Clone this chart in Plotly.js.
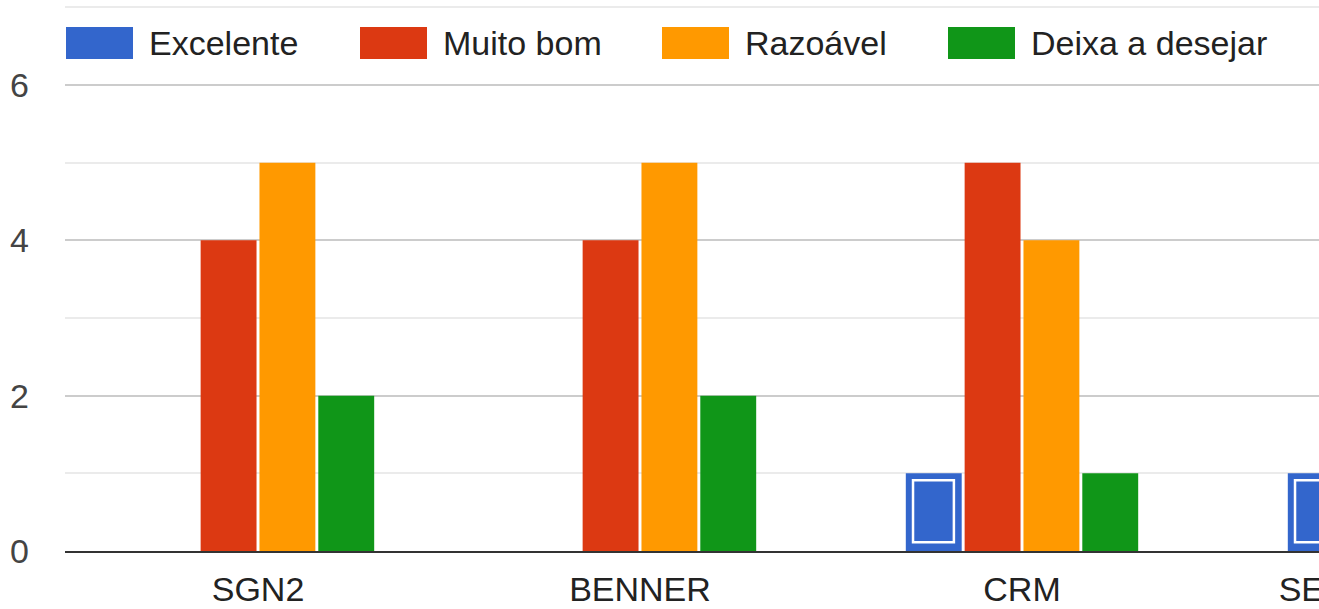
<!DOCTYPE html>
<html>
<head>
<meta charset="utf-8">
<script src="https://cdn.plot.ly/plotly-3.0.1.min.js"></script>
<style>
html, body { margin: 0; padding: 0; overflow: hidden; background: #fff; }
#chart { width: 1593px; height: 609px; }
</style>
</head>
<body>
<div id="chart"></div>
<script>
// ---- data ----
const categories = ['SGN2', 'BENNER', 'CRM', 'SERVICE DESK'];
const seriesNames = ['Excelente', 'Muito bom', 'Razoável', 'Deixa a desejar'];
const excelente = [0, 0, 1, 1];
const muitoBom = [4, 4, 5, 4];
const razoavel = [5, 5, 4, 4];
const deixaADesejar = [2, 2, 1, 2];
const yTickVals = [0, 2, 4, 6];
const yTickText = ['0', '2', '4', '6'];

// ---- styles ----
const colors = ['#3366cc', '#dc3912', '#ff9900', '#109618'];
const FONT = 'Arial, "Liberation Sans", sans-serif';
const W = 1593, H = 609;
const M = { l: 65, r: 0, t: 0, b: 58 };
const plotW = W - M.l - M.r, plotH = H - M.t - M.b;
const yMax = 7.094;
const xShift = 2 / 382;

const allSeries = [excelente, muitoBom, razoavel, deixaADesejar];
const traces = allSeries.map((vals, i) => ({
  type: 'bar',
  name: seriesNames[i],
  x: categories,
  y: vals,
  marker: { color: colors[i], line: { width: 0 } },
  showlegend: false,
  hoverinfo: 'skip'
}));

// white inner outline on the highlighted "Excelente" bars (only where value > 0)
const pxPerUnitY = plotH / yMax;
const insetY = 9 / pxPerUnitY;
traces.push({
  type: 'bar',
  xaxis: 'x2',
  x: categories,
  y: excelente.map(v => v > 0 ? v - 2 * insetY + 0.03 : null),
  base: excelente.map(v => v > 0 ? insetY - 0.003 : null),
  offset: -0.2853,
  width: 0.107,
  marker: { color: 'rgba(0,0,0,0)', line: { color: '#ffffff', width: 2.5 } },
  showlegend: false,
  hoverinfo: 'skip'
});

// ---- legend drawn as wide swatches (Google-chart style) ----
const px2paperX = px => (px - M.l) / plotW;
const px2paperY = py => (H - M.b - py) / plotH;
const legendSwatchX = [66, 360, 662, 948];
const swatchW = 67, swatchTop = 27, swatchBot = 59;
const shapes = [], annotations = [];
seriesNames.forEach((n, i) => {
  shapes.push({
    type: 'rect', xref: 'paper', yref: 'paper', layer: 'above',
    x0: px2paperX(legendSwatchX[i]), x1: px2paperX(legendSwatchX[i] + swatchW),
    y0: px2paperY(swatchBot), y1: px2paperY(swatchTop),
    fillcolor: colors[i], line: { width: 0 }
  });
  annotations.push({
    xref: 'paper', yref: 'paper',
    x: px2paperX(legendSwatchX[i] + swatchW + 14), y: px2paperY((swatchTop + swatchBot) / 2),
    xanchor: 'left', yanchor: 'middle', showarrow: false,
    text: n, font: { family: FONT, size: 34, color: '#222222' }
  });
});

const layout = {
  width: W, height: H,
  margin: M,
  paper_bgcolor: '#ffffff', plot_bgcolor: '#ffffff',
  barmode: 'group',
  bargap: 0.384,
  bargroupgap: 0.05,
  showlegend: false,
  font: { family: FONT, size: 34, color: '#222222' },
  xaxis: {
    type: 'category',
    range: [-0.5 - xShift, 3.5 - xShift],
    showgrid: false,
    zeroline: false,
    showline: true, linecolor: '#333333', linewidth: 2,
    ticks: '',
    ticklabelstandoff: 7,
    tickfont: { family: FONT, size: 34, color: '#222222' },
    fixedrange: true
  },
  xaxis2: {
    type: 'category', overlaying: 'x', range: [-0.5 - xShift, 3.5 - xShift], visible: false,
    categoryarray: categories, categoryorder: 'array'
  },
  yaxis: {
    range: [0, yMax],
    tickvals: yTickVals, ticktext: yTickText,
    showgrid: true, gridcolor: '#cccccc', gridwidth: 2,
    zeroline: false,
    ticks: '',
    ticklabelstandoff: 35,
    tickfont: { family: FONT, size: 34, color: '#444444' },
    minor: { dtick: 1, tick0: 0, showgrid: true, gridcolor: '#ebebeb', gridwidth: 2, ticks: '' },
    fixedrange: true
  },
  shapes: shapes,
  annotations: annotations
};

Plotly.newPlot('chart', traces, layout, { staticPlot: true, displayModeBar: false });
</script>
</body>
</html>
